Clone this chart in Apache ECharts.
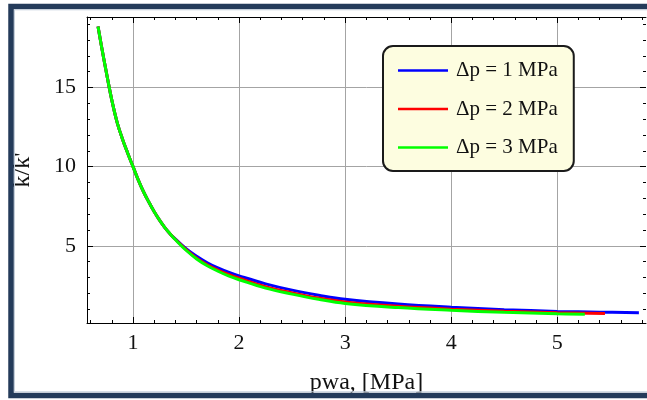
<!DOCTYPE html>
<html>
<head>
<meta charset="utf-8">
<script src="https://cdn.jsdelivr.net/npm/echarts/dist/echarts.min.js"></script>
<style>
html,body{margin:0;padding:0;background:#fff;}
#chart{width:647px;height:400px;}
</style>
</head>
<body>
<div id="chart"></div>
<script>
// ---- data ----
const seriesNames = ['Δp = 1 MPa', 'Δp = 2 MPa', 'Δp = 3 MPa'];
const seriesColors = ['#0000ff', '#ff0000', '#00ff00'];

// common steep part (curves coincide)
const xCommon = [0.67, 0.7, 0.75, 0.8, 0.85, 0.9, 0.95, 1.0, 1.05, 1.1, 1.15, 1.2, 1.25, 1.3, 1.35];
const yCommon = [18.85, 17.7, 15.9, 14.2, 12.8, 11.75, 10.85, 10.0, 9.15, 8.4, 7.75, 7.15, 6.62, 6.15, 5.75];

const xBlue = [1.4, 1.5, 1.6, 1.7, 1.8, 1.9, 2.0, 2.25, 2.5, 2.75, 3.0, 3.5, 4.0, 4.5, 5.0, 5.4, 5.77];
const yBlue = [5.42, 4.82, 4.34, 3.93, 3.6, 3.33, 3.1, 2.6, 2.2, 1.88, 1.62, 1.32, 1.12, 0.97, 0.86, 0.81, 0.78];

const xRed = [1.4, 1.5, 1.6, 1.7, 1.8, 1.9, 2.0, 2.25, 2.5, 2.75, 3.0, 3.5, 4.0, 4.5, 5.0, 5.45];
const yRed = [5.4, 4.76, 4.22, 3.8, 3.47, 3.19, 2.95, 2.42, 2.03, 1.7, 1.46, 1.18, 1.0, 0.87, 0.78, 0.72];

const xGreen = [1.4, 1.5, 1.6, 1.7, 1.8, 1.9, 2.0, 2.25, 2.5, 2.75, 3.0, 3.5, 4.0, 4.5, 5.0, 5.26];
const yGreen = [5.38, 4.72, 4.17, 3.74, 3.4, 3.1, 2.86, 2.33, 1.95, 1.62, 1.36, 1.1, 0.93, 0.8, 0.71, 0.68];

// axes
const xMin = 0.566, xMax = 5.837;
const yMin = 0.126, yMax = 19.45;
const xMajor = [1, 2, 3, 4, 5];
const xMinor = [0.6, 0.8, 1.2, 1.4, 1.6, 1.8, 2.2, 2.4, 2.6, 2.8, 3.2, 3.4, 3.6, 3.8, 4.2, 4.4, 4.6, 4.8, 5.2, 5.4, 5.6, 5.8];
const yMajor = [5, 10, 15];
const yMinor = [1, 2, 3, 4, 6, 7, 8, 9, 11, 12, 13, 14, 16, 17, 18, 19];
const xTitle = 'pwa, [MPa]';
const yTitle = "k/k'";

function pairs(xs, ys) {
  return xs.map((x, i) => [x, ys[i]]);
}
const seriesData = [
  pairs(xCommon.concat(xBlue), yCommon.concat(yBlue)),
  pairs(xCommon.concat(xRed), yCommon.concat(yRed)),
  pairs(xCommon.concat(xGreen), yCommon.concat(yGreen))
];

const FONT = 'Liberation Serif';
const gridColor = '#a4a4a4';

function xAxisDef(pos, ticks, len, major) {
  return {
    type: 'value', min: xMin, max: xMax, position: pos,
    axisLine: { show: major, onZero: false, lineStyle: { color: '#000', width: 1 } },
    axisTick: { show: true, inside: true, length: len, customValues: ticks, lineStyle: { color: '#000', width: 1 } },
    axisLabel: (major && pos === 'bottom') ? { show: true, customValues: ticks, margin: 9, fontFamily: FONT, fontSize: 22, color: '#111' } : { show: false },
    splitLine: (major && pos === 'bottom') ? { show: true, lineStyle: { color: gridColor, width: 1 } } : { show: false },
    name: (major && pos === 'bottom') ? xTitle : '',
    nameLocation: 'middle', nameGap: 48,
    nameTextStyle: { fontFamily: FONT, fontSize: 24, color: '#111' }
  };
}
function yAxisDef(pos, ticks, len, major) {
  return {
    type: 'value', min: yMin, max: yMax, position: pos,
    axisLine: { show: major && pos === 'left', onZero: false, lineStyle: { color: '#000', width: 1 } },
    axisTick: { show: true, inside: true, length: len, customValues: ticks, lineStyle: { color: '#000', width: 1 } },
    axisLabel: (major && pos === 'left') ? { show: true, customValues: ticks, margin: 11, fontFamily: FONT, fontSize: 22, color: '#111' } : { show: false },
    splitLine: (major && pos === 'left') ? { show: true, lineStyle: { color: gridColor, width: 1 } } : { show: false },
    name: (major && pos === 'left') ? yTitle : '',
    nameLocation: 'middle', nameGap: 52, nameRotate: 90,
    nameTextStyle: { fontFamily: FONT, fontSize: 24, color: '#111' }
  };
}

const chart = echarts.init(document.getElementById('chart'), null, { renderer: 'canvas' });
chart.setOption({
  backgroundColor: '#ffffff',
  animation: false,
  grid: { left: 87, top: 17, width: 559, height: 306, containLabel: false, outerBoundsMode: 'none' },
  xAxis: [
    xAxisDef('bottom', xMajor, 6, true),
    xAxisDef('bottom', xMinor, 3, false),
    xAxisDef('top', xMajor, 6, true),
    xAxisDef('top', xMinor, 3, false)
  ],
  yAxis: [
    yAxisDef('left', yMajor, 6, true),
    yAxisDef('left', yMinor, 3, false),
    yAxisDef('right', yMajor, 6, true),
    yAxisDef('right', yMinor, 3, false)
  ],
  legend: {
    show: true,
    data: seriesNames.map((n, i) => ({ name: n, icon: 'rect', itemStyle: { color: seriesColors[i] } })),
    orient: 'vertical',
    left: 383, top: 46,
    padding: [14, 16, 13, 15],
    itemWidth: 50, itemHeight: 2.5, itemGap: 17.5,
    backgroundColor: '#fdfde0',
    borderColor: '#1a1a1a', borderWidth: 2, borderRadius: 10,
    selectedMode: false,
    textStyle: { fontFamily: FONT, fontSize: 21, lineHeight: 21, color: '#111', padding: [0, 0, 0, 3] }
  },
  graphic: [
    { type: 'rect', silent: true, z: 100,
      shape: { x: 11, y: 6.5, width: 700, height: 389 },
      style: { fill: 'none', stroke: '#243b5a', lineWidth: 5.5 } },
    { type: 'rect', silent: true, z: 100,
      shape: { x: 14.5, y: 9.8, width: 700, height: 382 },
      style: { fill: 'none', stroke: '#c5d0dc', lineWidth: 1 } }
  ],
  series: seriesNames.map((name, i) => ({
    name: name,
    type: 'line',
    xAxisIndex: 0, yAxisIndex: 0,
    data: seriesData[i],
    symbol: 'none',
    smooth: 0.4,
    lineStyle: { color: seriesColors[i], width: 3 },
    itemStyle: { color: seriesColors[i] },
    z: 2 + i
  }))
});
</script>
</body>
</html>
